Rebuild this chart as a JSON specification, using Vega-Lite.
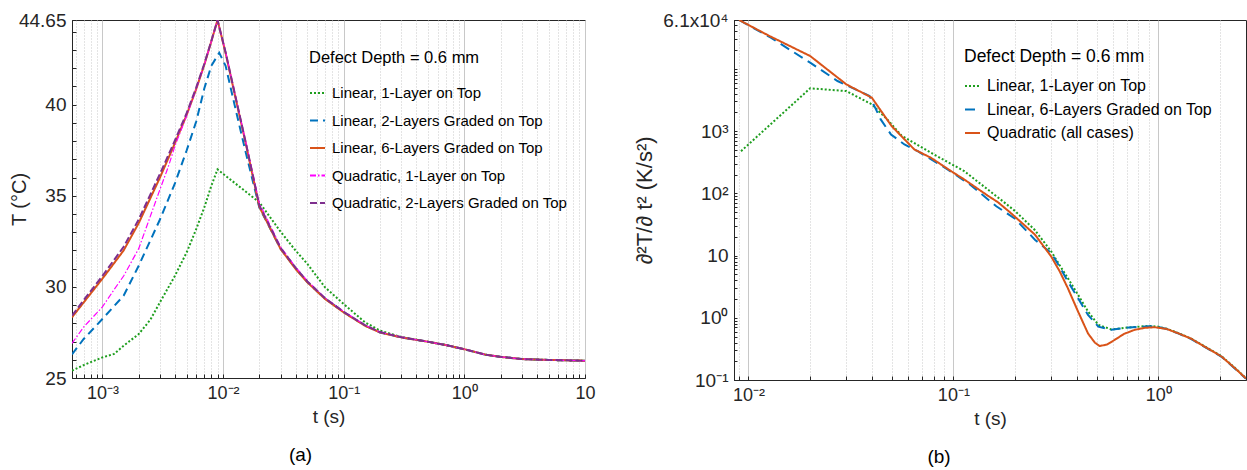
{
  "$schema": "https://vega.github.io/schema/vega-lite/v6.json",
  "background": "white",
  "padding": {"left": 8, "top": 10, "right": 0, "bottom": 0},
  "datasets": {
    "a": [
      {"s":"L1","t":0.00056,"T":25.4},{"s":"L1","t":0.0007,"T":25.71},{"s":"L1","t":0.001,"T":26.13},{"s":"L1","t":0.00125,"T":26.32},{"s":"L1","t":0.0015,"T":26.77},{"s":"L1","t":0.002,"T":27.41},{"s":"L1","t":0.0025,"T":28.2},{"s":"L1","t":0.003,"T":29.15},{"s":"L1","t":0.004,"T":30.62},{"s":"L1","t":0.005,"T":31.9},{"s":"L1","t":0.006,"T":33.18},{"s":"L1","t":0.007,"T":34.37},{"s":"L1","t":0.008,"T":35.55},{"s":"L1","t":0.009,"T":36.45},{"s":"L1","t":0.02,"T":34.64},{"s":"L1","t":0.03,"T":33.03},{"s":"L1","t":0.04,"T":31.99},{"s":"L1","t":0.05,"T":31.26},{"s":"L1","t":0.07,"T":29.98},{"s":"L1","t":0.1,"T":29.06},{"s":"L1","t":0.15,"T":28.06},{"s":"L1","t":0.2,"T":27.6},{"s":"L1","t":0.3,"T":27.25},{"s":"L1","t":0.5,"T":26.99},{"s":"L1","t":0.7,"T":26.81},{"s":"L1","t":1,"T":26.58},{"s":"L1","t":1.5,"T":26.28},{"s":"L1","t":2,"T":26.16},{"s":"L1","t":3,"T":26.04},{"s":"L1","t":5,"T":25.99},{"s":"L1","t":7,"T":25.97},{"s":"L1","t":10,"T":25.95},
      {"s":"L2","t":0.00056,"T":26.3},{"s":"L2","t":0.0007,"T":27.14},{"s":"L2","t":0.001,"T":28.24},{"s":"L2","t":0.0015,"T":29.52},{"s":"L2","t":0.002,"T":31.16},{"s":"L2","t":0.003,"T":33.7},{"s":"L2","t":0.004,"T":35.7},{"s":"L2","t":0.005,"T":37.5},{"s":"L2","t":0.006,"T":39.09},{"s":"L2","t":0.007,"T":40.9},{"s":"L2","t":0.008,"T":42.14},{"s":"L2","t":0.0093,"T":42.85},{"s":"L2","t":0.0105,"T":42.14},{"s":"L2","t":0.0127,"T":39.76},{"s":"L2","t":0.0154,"T":37.4},{"s":"L2","t":0.02,"T":34.35},{"s":"L2","t":0.03,"T":32.1},{"s":"L2","t":0.04,"T":31.0},{"s":"L2","t":0.05,"T":30.27},{"s":"L2","t":0.07,"T":29.36},{"s":"L2","t":0.1,"T":28.62},{"s":"L2","t":0.15,"T":27.88},{"s":"L2","t":0.2,"T":27.5},{"s":"L2","t":0.3,"T":27.23},{"s":"L2","t":0.5,"T":26.99},{"s":"L2","t":0.7,"T":26.81},{"s":"L2","t":1,"T":26.58},{"s":"L2","t":1.5,"T":26.28},{"s":"L2","t":2,"T":26.16},{"s":"L2","t":3,"T":26.04},{"s":"L2","t":5,"T":25.99},{"s":"L2","t":7,"T":25.97},{"s":"L2","t":10,"T":25.95},
      {"s":"L6","t":0.00056,"T":28.33},{"s":"L6","t":0.0007,"T":29.15},{"s":"L6","t":0.001,"T":30.45},{"s":"L6","t":0.0015,"T":32.0},{"s":"L6","t":0.002,"T":33.5},{"s":"L6","t":0.003,"T":36.0},{"s":"L6","t":0.004,"T":37.9},{"s":"L6","t":0.005,"T":39.45},{"s":"L6","t":0.006,"T":40.87},{"s":"L6","t":0.007,"T":42.2},{"s":"L6","t":0.008,"T":43.48},{"s":"L6","t":0.009,"T":44.65},{"s":"L6","t":0.0105,"T":42.84},{"s":"L6","t":0.0127,"T":40.37},{"s":"L6","t":0.0154,"T":37.9},{"s":"L6","t":0.02,"T":34.4},{"s":"L6","t":0.03,"T":32.08},{"s":"L6","t":0.04,"T":30.98},{"s":"L6","t":0.05,"T":30.25},{"s":"L6","t":0.07,"T":29.34},{"s":"L6","t":0.1,"T":28.6},{"s":"L6","t":0.15,"T":27.87},{"s":"L6","t":0.2,"T":27.5},{"s":"L6","t":0.3,"T":27.23},{"s":"L6","t":0.5,"T":26.99},{"s":"L6","t":0.7,"T":26.81},{"s":"L6","t":1,"T":26.58},{"s":"L6","t":1.5,"T":26.28},{"s":"L6","t":2,"T":26.16},{"s":"L6","t":3,"T":26.04},{"s":"L6","t":5,"T":25.99},{"s":"L6","t":7,"T":25.97},{"s":"L6","t":10,"T":25.95},
      {"s":"Q1","t":0.00056,"T":26.9},{"s":"Q1","t":0.0007,"T":27.8},{"s":"Q1","t":0.001,"T":28.9},{"s":"Q1","t":0.00125,"T":29.85},{"s":"Q1","t":0.0015,"T":30.6},{"s":"Q1","t":0.002,"T":32.1},{"s":"Q1","t":0.003,"T":35.35},{"s":"Q1","t":0.0035,"T":36.55},{"s":"Q1","t":0.004,"T":37.75},{"s":"Q1","t":0.005,"T":39.4},{"s":"Q1","t":0.006,"T":40.87},{"s":"Q1","t":0.007,"T":42.2},{"s":"Q1","t":0.008,"T":43.48},{"s":"Q1","t":0.009,"T":44.65},{"s":"Q1","t":0.0105,"T":42.9},{"s":"Q1","t":0.0127,"T":40.45},{"s":"Q1","t":0.0154,"T":38.0},{"s":"Q1","t":0.02,"T":34.6},{"s":"Q1","t":0.03,"T":32.2},{"s":"Q1","t":0.04,"T":31.08},{"s":"Q1","t":0.05,"T":30.33},{"s":"Q1","t":0.07,"T":29.4},{"s":"Q1","t":0.1,"T":28.65},{"s":"Q1","t":0.15,"T":27.9},{"s":"Q1","t":0.2,"T":27.52},{"s":"Q1","t":0.3,"T":27.24},{"s":"Q1","t":0.5,"T":26.99},{"s":"Q1","t":0.7,"T":26.81},{"s":"Q1","t":1,"T":26.58},{"s":"Q1","t":1.5,"T":26.28},{"s":"Q1","t":2,"T":26.16},{"s":"Q1","t":3,"T":26.04},{"s":"Q1","t":5,"T":25.99},{"s":"Q1","t":7,"T":25.97},{"s":"Q1","t":10,"T":25.95},
      {"s":"Q2","t":0.00056,"T":28.42},{"s":"Q2","t":0.0007,"T":29.27},{"s":"Q2","t":0.001,"T":30.6},{"s":"Q2","t":0.0015,"T":32.2},{"s":"Q2","t":0.002,"T":33.7},{"s":"Q2","t":0.003,"T":36.2},{"s":"Q2","t":0.004,"T":38.05},{"s":"Q2","t":0.005,"T":39.55},{"s":"Q2","t":0.006,"T":40.95},{"s":"Q2","t":0.007,"T":42.25},{"s":"Q2","t":0.008,"T":43.5},{"s":"Q2","t":0.009,"T":44.65},{"s":"Q2","t":0.0105,"T":42.88},{"s":"Q2","t":0.0127,"T":40.42},{"s":"Q2","t":0.0154,"T":37.95},{"s":"Q2","t":0.02,"T":34.47},{"s":"Q2","t":0.03,"T":32.14},{"s":"Q2","t":0.04,"T":31.04},{"s":"Q2","t":0.05,"T":30.3},{"s":"Q2","t":0.07,"T":29.38},{"s":"Q2","t":0.1,"T":28.63},{"s":"Q2","t":0.15,"T":27.9},{"s":"Q2","t":0.2,"T":27.52},{"s":"Q2","t":0.3,"T":27.24},{"s":"Q2","t":0.5,"T":26.99},{"s":"Q2","t":0.7,"T":26.81},{"s":"Q2","t":1,"T":26.58},{"s":"Q2","t":1.5,"T":26.28},{"s":"Q2","t":2,"T":26.16},{"s":"Q2","t":3,"T":26.04},{"s":"Q2","t":5,"T":25.99},{"s":"Q2","t":7,"T":25.97},{"s":"Q2","t":10,"T":25.95}
    ],
    "b": [
      {"s":"L1","t":0.0092,"v":476},{"s":"L1","t":0.02,"v":4870},{"s":"L1","t":0.03,"v":4400},{"s":"L1","t":0.04,"v":2690},{"s":"L1","t":0.0476,"v":1540},{"s":"L1","t":0.0558,"v":850},{"s":"L1","t":0.0778,"v":447},{"s":"L1","t":0.113,"v":227},{"s":"L1","t":0.165,"v":86},{"s":"L1","t":0.2,"v":52},{"s":"L1","t":0.249,"v":26},{"s":"L1","t":0.3,"v":11.7},{"s":"L1","t":0.33,"v":7.0},{"s":"L1","t":0.362,"v":4.34},{"s":"L1","t":0.406,"v":2.34},{"s":"L1","t":0.454,"v":1.26},{"s":"L1","t":0.51,"v":0.77},{"s":"L1","t":0.59,"v":0.65},{"s":"L1","t":0.72,"v":0.7},{"s":"L1","t":0.9,"v":0.74},{"s":"L1","t":1.0,"v":0.72},{"s":"L1","t":1.1,"v":0.665},{"s":"L1","t":1.25,"v":0.57},{"s":"L1","t":1.45,"v":0.46},{"s":"L1","t":1.63,"v":0.37},{"s":"L1","t":2.04,"v":0.24},{"s":"L1","t":2.37,"v":0.156},{"s":"L1","t":2.68,"v":0.107},
      {"s":"L6","t":0.009,"v":61000},{"s":"L6","t":0.0128,"v":32000},{"s":"L6","t":0.02,"v":12600},{"s":"L6","t":0.0272,"v":6380},{"s":"L6","t":0.039,"v":3660},{"s":"L6","t":0.0442,"v":1540},{"s":"L6","t":0.0496,"v":884},{"s":"L6","t":0.0577,"v":610},{"s":"L6","t":0.067,"v":476},{"s":"L6","t":0.094,"v":241},{"s":"L6","t":0.12,"v":140},{"s":"L6","t":0.162,"v":62},{"s":"L6","t":0.2,"v":39},{"s":"L6","t":0.25,"v":18},{"s":"L6","t":0.3,"v":11},{"s":"L6","t":0.33,"v":6.6},{"s":"L6","t":0.362,"v":3.84},{"s":"L6","t":0.406,"v":2.07},{"s":"L6","t":0.454,"v":1.11},{"s":"L6","t":0.51,"v":0.72},{"s":"L6","t":0.59,"v":0.64},{"s":"L6","t":0.72,"v":0.7},{"s":"L6","t":0.9,"v":0.73},{"s":"L6","t":1.0,"v":0.71},{"s":"L6","t":1.1,"v":0.66},{"s":"L6","t":1.25,"v":0.56},{"s":"L6","t":1.45,"v":0.455},{"s":"L6","t":1.63,"v":0.362},{"s":"L6","t":2.04,"v":0.235},{"s":"L6","t":2.37,"v":0.152},{"s":"L6","t":2.68,"v":0.105},
      {"s":"Q","t":0.009,"v":61000},{"s":"Q","t":0.0126,"v":34000},{"s":"Q","t":0.02,"v":16100},{"s":"Q","t":0.03,"v":5650},{"s":"Q","t":0.04,"v":3440},{"s":"Q","t":0.05,"v":1200},{"s":"Q","t":0.0645,"v":507},{"s":"Q","t":0.0778,"v":372},{"s":"Q","t":0.0975,"v":227},{"s":"Q","t":0.113,"v":167},{"s":"Q","t":0.147,"v":92},{"s":"Q","t":0.165,"v":72},{"s":"Q","t":0.191,"v":48},{"s":"Q","t":0.25,"v":21.7},{"s":"Q","t":0.3,"v":9.7},{"s":"Q","t":0.33,"v":5.6},{"s":"Q","t":0.362,"v":2.99},{"s":"Q","t":0.406,"v":1.26},{"s":"Q","t":0.454,"v":0.56},{"s":"Q","t":0.49,"v":0.4},{"s":"Q","t":0.517,"v":0.352},{"s":"Q","t":0.56,"v":0.37},{"s":"Q","t":0.612,"v":0.44},{"s":"Q","t":0.68,"v":0.55},{"s":"Q","t":0.767,"v":0.64},{"s":"Q","t":0.86,"v":0.69},{"s":"Q","t":0.96,"v":0.705},{"s":"Q","t":1.1,"v":0.66},{"s":"Q","t":1.25,"v":0.564},{"s":"Q","t":1.45,"v":0.46},{"s":"Q","t":1.63,"v":0.366},{"s":"Q","t":2.04,"v":0.237},{"s":"Q","t":2.37,"v":0.154},{"s":"Q","t":2.68,"v":0.106}
    ]
  },
  "hconcat": [
    {
      "width": 513, "height": 358,
      "data": {"name": "a"},
      "title": {"text": "(a)", "orient": "bottom", "anchor": "middle", "fontSize": 19, "fontWeight": "normal", "font": "Liberation Sans", "color": "#000000", "offset": 20, "dx": -28},
      "mark": {"type": "line", "clip": true},
      "encoding": {
        "x": {"field": "t", "type": "quantitative",
          "scale": {"type": "log", "domain": [0.00056, 10], "nice": false},
          "axis": {"title": "t (s)", "values": [0.0006,0.0007,0.0008,0.0009,0.001,0.002,0.003,0.004,0.005,0.006,0.007,0.008,0.009,0.01,0.02,0.03,0.04,0.05,0.06,0.07,0.08,0.09,0.1,0.2,0.3,0.4,0.5,0.6,0.7,0.8,0.9,1,2,3,4,5,6,7,8,9,10],
            "labelExpr": "datum.value==0.001?'10⁻³':datum.value==0.01?'10⁻²':datum.value==0.1?'10⁻¹':datum.value==1?'10⁰':datum.value==10?'10':''",
            "labelOverlap": false, "labelFlush": false, "labelBound": false,
            "grid": true,
            "gridColor": "#c8c8c8",
            "gridDash": {"condition": {"test": "indexof([0.001,0.01,0.1,1,10], datum.value) >= 0", "value": []}, "value": [1,2]},
            "tickSize": -4, "labelPadding": 10, "titlePadding": 5}},
        "y": {"field": "T", "type": "quantitative",
          "scale": {"domain": [25, 44.65], "nice": false, "zero": false},
          "axis": {"title": "T (°C)", "values": [25,26,27,28,29,30,31,32,33,34,35,36,37,38,39,40,41,42,43,44,44.65],
            "labelExpr": "indexof([25,30,35,40,44.65], datum.value) >= 0 ? '' + datum.value : ''",
            "labelOverlap": false, "labelFlush": false, "labelBound": false, "grid": false,
            "tickSize": -4, "labelPadding": 10, "titleX": -43, "labelFontSize": 19, "titleFontSize": 20}},
        "color": {"field": "s", "type": "nominal",
          "scale": {"domain": ["L1","L2","L6","Q1","Q2"], "range": ["#1E9E1E","#0072BD","#D95319","#FF00FF","#7E2F8E"]},
          "legend": {"orient": "none", "legendX": 237, "legendY": 30, "title": "Defect Depth = 0.6 mm",
            "labelExpr": "datum.value=='L1'?'Linear, 1-Layer on Top':datum.value=='L2'?'Linear, 2-Layers Graded on Top':datum.value=='L6'?'Linear, 6-Layers Graded on Top':datum.value=='Q1'?'Quadratic, 1-Layer on Top':'Quadratic, 2-Layers Graded on Top'",
            "rowPadding": 10.5, "titlePadding": 18, "labelFontSize": 15, "titleFontSize": 16.5}},
        "strokeDash": {"field": "s", "type": "nominal",
          "scale": {"domain": ["L1","L2","L6","Q1","Q2"], "range": [[2,2],[8,5],[1,0],[6,2,1.5,2],[7,3]]},
          "legend": {"orient": "none", "legendX": 237, "legendY": 30, "title": "Defect Depth = 0.6 mm",
            "labelExpr": "datum.value=='L1'?'Linear, 1-Layer on Top':datum.value=='L2'?'Linear, 2-Layers Graded on Top':datum.value=='L6'?'Linear, 6-Layers Graded on Top':datum.value=='Q1'?'Quadratic, 1-Layer on Top':'Quadratic, 2-Layers Graded on Top'",
            "rowPadding": 10.5, "titlePadding": 18, "labelFontSize": 15, "titleFontSize": 16.5}},
        "strokeWidth": {"condition": {"test": "datum.s=='Q1'", "value": 1.2}, "value": 2}
      }
    },
    {
      "width": 512, "height": 360,
      "data": {"name": "b"},
      "title": {"text": "(b)", "orient": "bottom", "anchor": "middle", "fontSize": 19, "fontWeight": "normal", "font": "Liberation Sans", "color": "#000000", "offset": 20, "dx": -51},
      "mark": {"type": "line", "clip": true},
      "encoding": {
        "x": {"field": "t", "type": "quantitative",
          "scale": {"type": "log", "domain": [0.0085, 2.68], "nice": false},
          "axis": {"title": "t (s)", "values": [0.009,0.01,0.02,0.03,0.04,0.05,0.06,0.07,0.08,0.09,0.1,0.2,0.3,0.4,0.5,0.6,0.7,0.8,0.9,1,2],
            "labelExpr": "datum.value==0.01?'10⁻²':datum.value==0.1?'10⁻¹':datum.value==1?'10⁰':''",
            "labelOverlap": false, "labelFlush": false, "labelBound": false,
            "grid": true,
            "gridColor": "#c8c8c8",
            "gridDash": {"condition": {"test": "indexof([0.01,0.1,1], datum.value) >= 0", "value": []}, "value": [1,2]},
            "tickSize": -4, "labelPadding": 10, "titlePadding": 5}},
        "y": {"field": "v", "type": "quantitative",
          "scale": {"type": "log", "domain": [0.1, 61000], "nice": false},
          "axis": {"title": "∂²T/∂ t² (K/s²)", "values": [0.1,0.2,0.3,0.4,0.5,0.6,0.7,0.8,0.9,1,2,3,4,5,6,7,8,9,10,20,30,40,50,60,70,80,90,100,200,300,400,500,600,700,800,900,1000,2000,3000,4000,5000,6000,7000,8000,9000,10000,20000,30000,40000,50000,60000,61000],
            "labelExpr": "datum.value==0.1?'10⁻¹':datum.value==1?'10⁰':datum.value==10?'10':datum.value==100?'10²':datum.value==1000?'10³':datum.value==61000?'6.1x10⁴':''",
            "labelOverlap": false, "labelFlush": false, "labelBound": false, "grid": false,
            "tickSize": -3, "labelPadding": 9, "titleX": -78, "labelFontSize": 19, "titleFontSize": 22}},
        "color": {"field": "s", "type": "nominal",
          "scale": {"domain": ["L1","L6","Q"], "range": ["#1E9E1E","#0072BD","#D95319"]},
          "legend": {"orient": "none", "legendX": 230, "legendY": 28, "title": "Defect Depth = 0.6 mm",
            "labelExpr": "datum.value=='L1'?'Linear, 1-Layer on Top':datum.value=='L6'?'Linear, 6-Layers Graded on Top':'Quadratic (all cases)'",
            "rowPadding": 6.5, "titlePadding": 12, "labelFontSize": 16, "titleFontSize": 17.5}},
        "strokeDash": {"field": "s", "type": "nominal",
          "scale": {"domain": ["L1","L6","Q"], "range": [[2,2],[10,6],[1,0]]},
          "legend": {"orient": "none", "legendX": 230, "legendY": 28, "title": "Defect Depth = 0.6 mm",
            "labelExpr": "datum.value=='L1'?'Linear, 1-Layer on Top':datum.value=='L6'?'Linear, 6-Layers Graded on Top':'Quadratic (all cases)'",
            "rowPadding": 6.5, "titlePadding": 12, "labelFontSize": 16, "titleFontSize": 17.5}},
        "strokeWidth": {"value": 2}
      }
    }
  ],
  "spacing": 36,
  "resolve": {"scale": {"color": "independent", "strokeDash": "independent"}, "legend": {"color": "independent", "strokeDash": "independent"}},
  "config": {
    "font": "Liberation Sans",
    "view": {"stroke": "#262626", "strokeWidth": 1},
    "axis": {"labelFont": "Liberation Sans", "titleFont": "Liberation Sans", "labelColor": "#262626", "titleColor": "#262626", "titleFontWeight": "normal", "domainColor": "#262626", "tickColor": "#262626", "labelFontSize": 18, "titleFontSize": 19},
    "legend": {"labelFont": "Liberation Sans", "titleFont": "Liberation Sans", "labelFontSize": 14, "titleFontSize": 14, "titleFontWeight": "normal", "labelColor": "#000000", "titleColor": "#000000", "symbolType": "stroke", "symbolSize": 225, "symbolStrokeWidth": 2, "padding": 0, "labelLimit": 400, "titleLimit": 400, "labelOffset": 6}
  }
}
